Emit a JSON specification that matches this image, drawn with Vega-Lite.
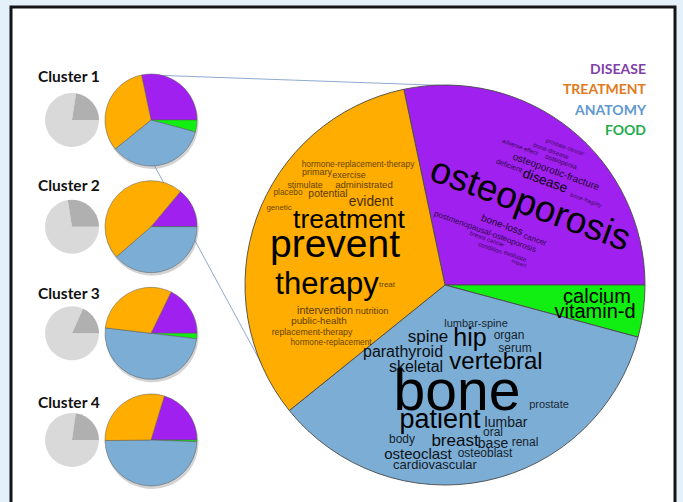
{
  "$schema": "https://vega.github.io/schema/vega-lite/v6.json",
  "width": 683,
  "height": 502,
  "padding": 0,
  "autosize": {"type": "fit", "contains": "padding"},
  "background": "#e4f1fb",
  "config": {"view": {"stroke": null}},
  "datasets": {
    "pies": [
      {"cluster": 1, "topic": "DISEASE", "pct": 28.3},
      {"cluster": 1, "topic": "FOOD", "pct": 4.2},
      {"cluster": 1, "topic": "ANATOMY", "pct": 35.0},
      {"cluster": 1, "topic": "TREATMENT", "pct": 32.5},
      {"cluster": 2, "topic": "DISEASE", "pct": 13.9},
      {"cluster": 2, "topic": "FOOD", "pct": 0},
      {"cluster": 2, "topic": "ANATOMY", "pct": 38.6},
      {"cluster": 2, "topic": "TREATMENT", "pct": 47.5},
      {"cluster": 3, "topic": "DISEASE", "pct": 17.8},
      {"cluster": 3, "topic": "FOOD", "pct": 1.9},
      {"cluster": 3, "topic": "ANATOMY", "pct": 50.0},
      {"cluster": 3, "topic": "TREATMENT", "pct": 30.3},
      {"cluster": 4, "topic": "DISEASE", "pct": 20.3},
      {"cluster": 4, "topic": "FOOD", "pct": 0.6},
      {"cluster": 4, "topic": "ANATOMY", "pct": 49.2},
      {"cluster": 4, "topic": "TREATMENT", "pct": 29.9}
    ],
    "shares": [
      {"cluster": 1, "segment": "other", "pct": 77.4},
      {"cluster": 1, "segment": "this cluster", "pct": 22.6},
      {"cluster": 2, "segment": "other", "pct": 72.5},
      {"cluster": 2, "segment": "this cluster", "pct": 27.5},
      {"cluster": 3, "segment": "other", "pct": 81.7},
      {"cluster": 3, "segment": "this cluster", "pct": 18.3},
      {"cluster": 4, "segment": "other", "pct": 77.2},
      {"cluster": 4, "segment": "this cluster", "pct": 22.8}
    ],
    "clusters": [
      {"cluster": 1, "name": "Cluster 1"},
      {"cluster": 2, "name": "Cluster 2"},
      {"cluster": 3, "name": "Cluster 3"},
      {"cluster": 4, "name": "Cluster 4"}
    ],
    "categories": [
      {"topic": "DISEASE"},
      {"topic": "TREATMENT"},
      {"topic": "ANATOMY"},
      {"topic": "FOOD"}
    ],
    "words": [
      {"word": "hormone-replacement-therapy", "topic": "TREATMENT", "freq": 8.4, "x": 358, "y": 167},
      {"word": "primary", "topic": "TREATMENT", "freq": 9, "x": 317, "y": 175},
      {"word": "exercise", "topic": "TREATMENT", "freq": 9, "x": 349, "y": 178},
      {"word": "stimulate", "topic": "TREATMENT", "freq": 8.8, "x": 305, "y": 188},
      {"word": "administrated", "topic": "TREATMENT", "freq": 9.6, "x": 364, "y": 188},
      {"word": "placebo", "topic": "TREATMENT", "freq": 8.3, "x": 288, "y": 195},
      {"word": "potential", "topic": "TREATMENT", "freq": 10.4, "x": 328, "y": 197},
      {"word": "evident", "topic": "TREATMENT", "freq": 13.8, "x": 371, "y": 206},
      {"word": "genetic", "topic": "TREATMENT", "freq": 7.8, "x": 279, "y": 210},
      {"word": "treatment", "topic": "TREATMENT", "freq": 26.5, "x": 349, "y": 228},
      {"word": "prevent", "topic": "TREATMENT", "freq": 39, "x": 335, "y": 257},
      {"word": "therapy", "topic": "TREATMENT", "freq": 31, "x": 327, "y": 294},
      {"word": "treat", "topic": "TREATMENT", "freq": 8, "x": 387, "y": 287},
      {"word": "intervention", "topic": "TREATMENT", "freq": 10.8, "x": 325, "y": 314},
      {"word": "nutrition", "topic": "TREATMENT", "freq": 9.3, "x": 372, "y": 314},
      {"word": "public-health", "topic": "TREATMENT", "freq": 9.8, "x": 319, "y": 324},
      {"word": "replacement-therapy", "topic": "TREATMENT", "freq": 8.8, "x": 312, "y": 335},
      {"word": "hormone-replacement", "topic": "TREATMENT", "freq": 8.3, "x": 331, "y": 345},
      {"word": "osteoporosis", "topic": "DISEASE", "freq": 37, "x": 530, "y": 205},
      {"word": "prostate-cancer", "topic": "DISEASE", "freq": 5.8, "x": 565, "y": 147},
      {"word": "bone-disease", "topic": "DISEASE", "freq": 6.2, "x": 551, "y": 151},
      {"word": "adverse-effect", "topic": "DISEASE", "freq": 6, "x": 520, "y": 147},
      {"word": "osteopenia", "topic": "DISEASE", "freq": 6.8, "x": 561, "y": 162},
      {"word": "osteoporotic-fracture", "topic": "DISEASE", "freq": 10, "x": 556, "y": 172},
      {"word": "deficient", "topic": "DISEASE", "freq": 7.4, "x": 509, "y": 166},
      {"word": "disease", "topic": "DISEASE", "freq": 13.5, "x": 545, "y": 181},
      {"word": "bone-fragility", "topic": "DISEASE", "freq": 5.8, "x": 586, "y": 200},
      {"word": "bone-loss", "topic": "DISEASE", "freq": 10, "x": 502, "y": 225},
      {"word": "cancer", "topic": "DISEASE", "freq": 8, "x": 535, "y": 240},
      {"word": "postmenopausal-osteoporosis", "topic": "DISEASE", "freq": 8.1, "x": 485, "y": 232},
      {"word": "breast cancer", "topic": "DISEASE", "freq": 6, "x": 487, "y": 239},
      {"word": "condition", "topic": "DISEASE", "freq": 6.2, "x": 490, "y": 248},
      {"word": "evaluate", "topic": "DISEASE", "freq": 6.3, "x": 515, "y": 256},
      {"word": "impact", "topic": "DISEASE", "freq": 5.2, "x": 519, "y": 263},
      {"word": "calcium", "topic": "FOOD", "freq": 20, "x": 597, "y": 303},
      {"word": "vitamin-d", "topic": "FOOD", "freq": 20, "x": 595, "y": 318},
      {"word": "lumbar-spine", "topic": "ANATOMY", "freq": 11, "x": 476, "y": 327},
      {"word": "spine", "topic": "ANATOMY", "freq": 17, "x": 428, "y": 342},
      {"word": "hip", "topic": "ANATOMY", "freq": 25, "x": 470, "y": 346},
      {"word": "organ", "topic": "ANATOMY", "freq": 12, "x": 509, "y": 339},
      {"word": "serum", "topic": "ANATOMY", "freq": 12, "x": 515, "y": 352},
      {"word": "parathyroid", "topic": "ANATOMY", "freq": 16, "x": 403, "y": 357},
      {"word": "vertebral", "topic": "ANATOMY", "freq": 24, "x": 496, "y": 369},
      {"word": "skeletal", "topic": "ANATOMY", "freq": 16, "x": 416, "y": 372},
      {"word": "bone", "topic": "ANATOMY", "freq": 57, "x": 457, "y": 410},
      {"word": "prostate", "topic": "ANATOMY", "freq": 11, "x": 549, "y": 408},
      {"word": "patient", "topic": "ANATOMY", "freq": 27, "x": 440, "y": 428},
      {"word": "lumbar", "topic": "ANATOMY", "freq": 14, "x": 506, "y": 427},
      {"word": "oral", "topic": "ANATOMY", "freq": 12, "x": 493, "y": 436},
      {"word": "body", "topic": "ANATOMY", "freq": 12, "x": 402, "y": 443},
      {"word": "breast", "topic": "ANATOMY", "freq": 17, "x": 455, "y": 446},
      {"word": "base", "topic": "ANATOMY", "freq": 14, "x": 493, "y": 448},
      {"word": "renal", "topic": "ANATOMY", "freq": 12, "x": 525, "y": 446},
      {"word": "osteoclast", "topic": "ANATOMY", "freq": 15, "x": 418, "y": 459},
      {"word": "osteoblast", "topic": "ANATOMY", "freq": 12, "x": 485, "y": 457},
      {"word": "cardiovascular", "topic": "ANATOMY", "freq": 13, "x": 435, "y": 469}
    ]
  },
  "resolve": {"scale": {"x": "independent", "y": "independent", "theta": "independent", "color": "independent", "size": "independent", "opacity": "independent", "fill": "independent"}},
  "layer": [
    {
      "data": {"values": [{"frame": "panel"}]},
      "mark": {"type": "rect", "fill": "#ffffff", "stroke": "#151515", "strokeWidth": 3},
      "encoding": {
        "x": {"datum": 11, "type": "quantitative", "scale": {"domain": [0, 683], "range": [0, 683]}, "axis": null},
        "x2": {"datum": 675},
        "y": {"datum": 7, "type": "quantitative", "scale": {"domain": [0, 502], "range": [0, 502]}, "axis": null},
        "y2": {"datum": 530}
      }
    },
    {
      "data": {"values": [{"link": "top"}]},
      "mark": {"type": "rule", "stroke": "#8eaacd", "strokeWidth": 1},
      "encoding": {
        "x": {"datum": 150, "type": "quantitative", "scale": {"domain": [0, 683], "range": [0, 683]}, "axis": null},
        "x2": {"datum": 458},
        "y": {"datum": 75, "type": "quantitative", "scale": {"domain": [0, 502], "range": [0, 502]}, "axis": null},
        "y2": {"datum": 86}
      }
    },
    {
      "data": {"values": [{"link": "bottom"}]},
      "mark": {"type": "rule", "stroke": "#8eaacd", "strokeWidth": 1},
      "encoding": {
        "x": {"datum": 153, "type": "quantitative", "scale": {"domain": [0, 683], "range": [0, 683]}, "axis": null},
        "x2": {"datum": 266},
        "y": {"datum": 163, "type": "quantitative", "scale": {"domain": [0, 502], "range": [0, 502]}, "axis": null},
        "y2": {"datum": 372}
      }
    },
    {
      "data": {"name": "shares"},
      "transform": [
        {"stack": "pct", "groupby": ["cluster"], "sort": [{"field": "segment"}], "as": ["t0", "t1"]}
      ],
      "mark": {"type": "arc", "radius": 27},
      "encoding": {
        "theta": {"field": "t0", "type": "quantitative", "stack": null, "scale": {"domain": [0, 100], "range": [1.5708, 7.854]}},
        "theta2": {"field": "t1"},
        "x": {"datum": 72, "type": "quantitative", "scale": {"domain": [0, 683], "range": [0, 683]}, "axis": null},
        "y": {"field": "cluster", "type": "quantitative", "stack": null, "scale": {"domain": [1, 4], "range": [120, 440]}, "axis": null},
        "color": {"field": "segment", "type": "nominal", "scale": {"domain": ["other", "this cluster"], "range": ["#d9d9d9", "#b0b0b0"]}, "legend": null}
      }
    },
    {
      "data": {"name": "pies"},
      "transform": [
        {"calculate": "indexof(['FOOD','ANATOMY','TREATMENT','DISEASE'], datum.topic)", "as": "ord"},
        {"stack": "pct", "groupby": ["cluster"], "sort": [{"field": "ord"}], "as": ["t0", "t1"]}
      ],
      "mark": {"type": "arc", "radius": 46.5, "fill": "#808080", "opacity": 0.35, "xOffset": 1, "yOffset": 2.5},
      "encoding": {
        "theta": {"field": "t0", "type": "quantitative", "stack": null, "scale": {"domain": [0, 100], "range": [1.5708, 7.854]}},
        "theta2": {"field": "t1"},
        "x": {"datum": 151, "type": "quantitative", "scale": {"domain": [0, 683], "range": [0, 683]}, "axis": null},
        "y": {"field": "cluster", "type": "quantitative", "stack": null, "scale": {"domain": [1, 4], "range": [120, 440]}, "axis": null}
      }
    },
    {
      "data": {"name": "pies"},
      "transform": [
        {"calculate": "indexof(['FOOD','ANATOMY','TREATMENT','DISEASE'], datum.topic)", "as": "ord"},
        {"stack": "pct", "groupby": ["cluster"], "sort": [{"field": "ord"}], "as": ["t0", "t1"]}
      ],
      "mark": {"type": "arc", "radius": 46, "stroke": "#5a5a5a", "strokeWidth": 0.5},
      "encoding": {
        "theta": {"field": "t0", "type": "quantitative", "stack": null, "scale": {"domain": [0, 100], "range": [1.5708, 7.854]}},
        "theta2": {"field": "t1"},
        "x": {"datum": 151, "type": "quantitative", "scale": {"domain": [0, 683], "range": [0, 683]}, "axis": null},
        "y": {"field": "cluster", "type": "quantitative", "stack": null, "scale": {"domain": [1, 4], "range": [120, 440]}, "axis": null},
        "color": {"field": "topic", "type": "nominal", "scale": {"domain": ["DISEASE", "TREATMENT", "ANATOMY", "FOOD"], "range": ["#a020f0", "#ffad00", "#7badd5", "#11ee11"]}, "legend": null}
      }
    },
    {
      "data": {"name": "pies"},
      "transform": [
        {"filter": "datum.cluster === 1"},
        {"calculate": "indexof(['FOOD','ANATOMY','TREATMENT','DISEASE'], datum.topic)", "as": "ord"},
        {"stack": "pct", "groupby": ["cluster"], "sort": [{"field": "ord"}], "as": ["t0", "t1"]}
      ],
      "mark": {"type": "arc", "radius": 200, "stroke": "#4a4a4a", "strokeWidth": 0.9},
      "encoding": {
        "theta": {"field": "t0", "type": "quantitative", "stack": null, "scale": {"domain": [0, 100], "range": [1.5708, 7.854]}},
        "theta2": {"field": "t1"},
        "x": {"datum": 445, "type": "quantitative", "scale": {"domain": [0, 683], "range": [0, 683]}, "axis": null},
        "y": {"datum": 285, "type": "quantitative", "scale": {"domain": [0, 502], "range": [0, 502]}, "axis": null},
        "color": {"field": "topic", "type": "nominal", "scale": {"domain": ["DISEASE", "TREATMENT", "ANATOMY", "FOOD"], "range": ["#a020f0", "#ffad00", "#7badd5", "#11ee11"]}, "legend": null}
      }
    },
    {
      "data": {"name": "words"},
      "transform": [{"filter": "datum.topic === 'TREATMENT'"}],
      "mark": {"type": "text", "font": "Liberation Sans, Arial, sans-serif", "align": "center", "baseline": "alphabetic", "fill": "#000000"},
      "encoding": {
        "text": {"field": "word", "type": "nominal"},
        "x": {"field": "x", "type": "quantitative", "scale": {"domain": [0, 683], "range": [0, 683]}, "axis": null},
        "y": {"field": "y", "type": "quantitative", "scale": {"domain": [0, 502], "range": [0, 502]}, "axis": null},
        "size": {"field": "freq", "type": "quantitative", "scale": {"type": "linear", "domain": [0, 100], "range": [0, 100]}, "legend": null},
        "opacity": {"field": "freq", "type": "quantitative", "scale": {"domain": [8, 25], "range": [0.62, 1], "clamp": true}, "legend": null}
      }
    },
    {
      "data": {"name": "words"},
      "transform": [{"filter": "datum.topic === 'DISEASE'"}],
      "mark": {"type": "text", "font": "Liberation Sans, Arial, sans-serif", "align": "center", "baseline": "middle", "angle": 20, "fill": "#000000"},
      "encoding": {
        "text": {"field": "word", "type": "nominal"},
        "x": {"field": "x", "type": "quantitative", "scale": {"domain": [0, 683], "range": [0, 683]}, "axis": null},
        "y": {"field": "y", "type": "quantitative", "scale": {"domain": [0, 502], "range": [0, 502]}, "axis": null},
        "size": {"field": "freq", "type": "quantitative", "scale": {"type": "linear", "domain": [0, 100], "range": [0, 100]}, "legend": null},
        "opacity": {"field": "freq", "type": "quantitative", "scale": {"domain": [5, 14], "range": [0.62, 1], "clamp": true}, "legend": null}
      }
    },
    {
      "data": {"name": "words"},
      "transform": [{"filter": "datum.topic === 'ANATOMY' || datum.topic === 'FOOD'"}],
      "mark": {"type": "text", "font": "Liberation Sans, Arial, sans-serif", "align": "center", "baseline": "alphabetic", "fill": "#000000"},
      "encoding": {
        "text": {"field": "word", "type": "nominal"},
        "x": {"field": "x", "type": "quantitative", "scale": {"domain": [0, 683], "range": [0, 683]}, "axis": null},
        "y": {"field": "y", "type": "quantitative", "scale": {"domain": [0, 502], "range": [0, 502]}, "axis": null},
        "size": {"field": "freq", "type": "quantitative", "scale": {"type": "linear", "domain": [0, 100], "range": [0, 100]}, "legend": null},
        "opacity": {"field": "freq", "type": "quantitative", "scale": {"domain": [8, 20], "range": [0.72, 1], "clamp": true}, "legend": null}
      }
    },
    {
      "data": {"name": "clusters"},
      "mark": {"type": "text", "font": "Lato", "fontWeight": "bold", "fontSize": 15.5, "align": "left", "baseline": "middle", "fill": "#111111"},
      "encoding": {
        "text": {"field": "name", "type": "nominal"},
        "x": {"datum": 38, "type": "quantitative", "scale": {"domain": [0, 683], "range": [0, 683]}, "axis": null},
        "y": {"field": "cluster", "type": "quantitative", "scale": {"domain": [1, 4], "range": [77, 403]}, "axis": null}
      }
    },
    {
      "data": {"name": "categories"},
      "mark": {"type": "text", "font": "Lato", "fontWeight": "bold", "fontSize": 14, "align": "right", "baseline": "middle"},
      "encoding": {
        "text": {"field": "topic", "type": "nominal"},
        "x": {"datum": 646, "type": "quantitative", "scale": {"domain": [0, 683], "range": [0, 683]}, "axis": null},
        "y": {"field": "topic", "type": "nominal", "sort": null, "scale": {"type": "point", "domain": ["DISEASE", "TREATMENT", "ANATOMY", "FOOD"], "range": [69.5, 131], "padding": 0}, "axis": null},
        "fill": {"field": "topic", "type": "nominal", "scale": {"domain": ["DISEASE", "TREATMENT", "ANATOMY", "FOOD"], "range": ["#7f40a8", "#e07b22", "#6198d0", "#22aa4b"]}, "legend": null}
      }
    }
  ]
}
